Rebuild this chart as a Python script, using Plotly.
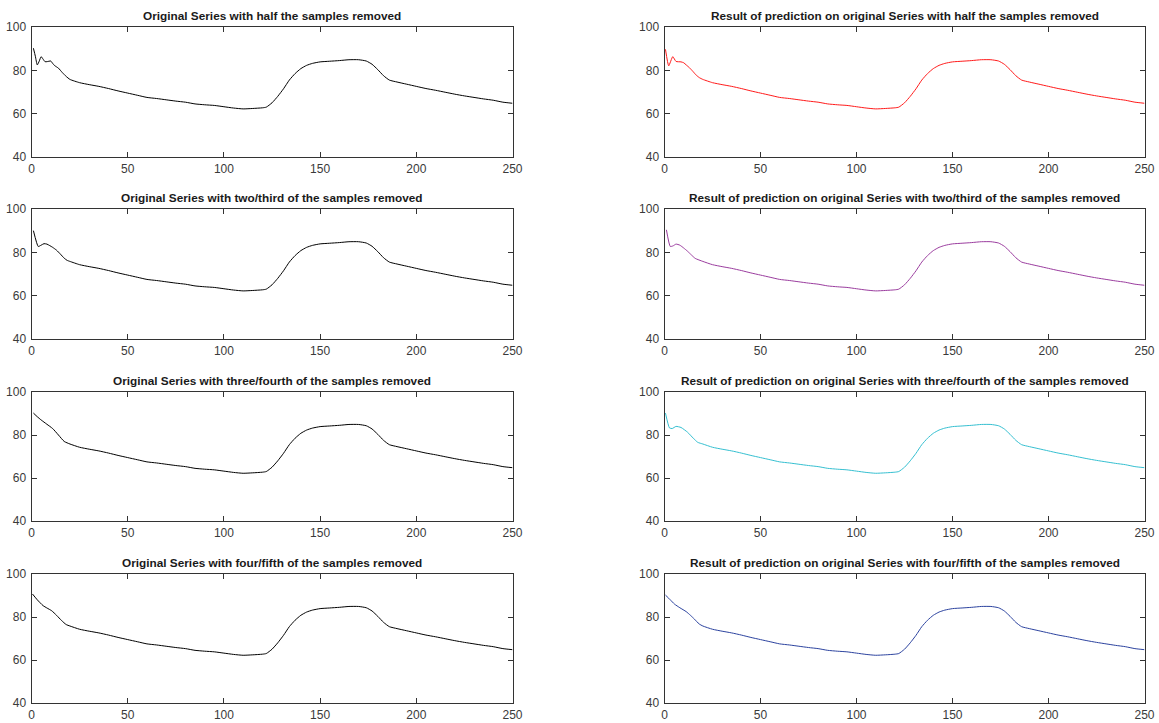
import plotly.graph_objects as go

# ---- data ----
tail_x = [20, 25, 30, 35, 40, 45, 50, 55, 60, 65, 70, 75, 80, 85, 90, 95, 100, 105, 110, 115,
          120, 122, 125, 128, 131, 134, 137, 140, 143, 146, 150, 155, 160, 165, 170, 174, 177,
          180, 183, 186, 190, 195, 200, 205, 210, 215, 220, 225, 230, 235, 240, 245, 250]
tail_y = [75.8, 74.3, 73.4, 72.6, 71.6, 70.5, 69.5, 68.5, 67.5, 67.0, 66.4, 65.8, 65.3, 64.5,
          64.1, 63.8, 63.2, 62.6, 62.2, 62.4, 62.7, 63.0, 65.0, 68.0, 71.5, 75.5, 78.5, 80.8,
          82.3, 83.2, 83.9, 84.2, 84.5, 84.9, 84.9, 84.3, 82.8, 80.3, 77.5, 75.5, 74.6, 73.6,
          72.6, 71.6, 70.8, 69.9, 69.0, 68.2, 67.5, 66.8, 66.2, 65.3, 64.8]

head_half_x = [1, 2, 3, 4, 5, 6, 7, 8, 10, 11, 12, 14, 16, 18]
head_half_y = [90.2, 86.5, 82.5, 84.2, 86.3, 85.2, 84.0, 84.0, 84.3, 83.2, 82.2, 81.0, 79.0, 77.2]
head_half_pred_x = [0.5, 2.2, 4.3, 6, 8.6, 10, 11.3, 13, 14.8, 16.5, 18.2]
head_half_pred_y = [89.7, 82.1, 86.3, 84.1, 83.9, 83.5, 82.5, 81.2, 79.5, 77.8, 76.6]

head_two_x = [1, 3.5, 5, 6.5, 8, 9.5, 11, 13, 15, 17, 18.5]
head_two_y = [90.0, 82.7, 83.3, 84.0, 83.8, 83.1, 82.3, 81.0, 79.2, 77.3, 76.3]
head_two_pred_x = [1, 3, 4.5, 6, 8, 10, 12, 14, 16]
head_two_pred_y = [90.4, 82.7, 83.0, 83.8, 83.3, 82.0, 80.5, 78.8, 77.2]

head_three_x = [1, 3, 5, 8, 11, 14, 17]
head_three_y = [90.2, 88.5, 87.0, 85.0, 83.0, 80.0, 77.0]
head_three_pred_x = [0.5, 2.6, 4, 6, 8.6, 12, 15, 17.3]
head_three_pred_y = [90.2, 83.3, 83.0, 84.0, 83.5, 81.3, 78.5, 76.6]

head_four_x = [0.5, 3, 6, 8, 10.5, 13, 15.7, 18]
head_four_y = [90.7, 88.0, 85.3, 84.2, 82.9, 80.8, 78.3, 76.5]
head_four_pred_x = [0.5, 3, 5.2, 8, 11.3, 13.5, 15.6, 18]
head_four_pred_y = [90.2, 88.0, 86.0, 84.3, 82.5, 80.8, 79.0, 76.8]

titles = [
    "Original Series with half the samples removed",
    "Result of prediction on original Series with half the samples removed",
    "Original Series with two/third of the samples removed",
    "Result of prediction on original Series with two/third of the samples removed",
    "Original Series with three/fourth of the samples removed",
    "Result of prediction on original Series with three/fourth of the samples removed",
    "Original Series with four/fifth of the samples removed",
    "Result of prediction on original Series with four/fifth of the samples removed",
]
heads = [
    (head_half_x, head_half_y), (head_half_pred_x, head_half_pred_y),
    (head_two_x, head_two_y), (head_two_pred_x, head_two_pred_y),
    (head_three_x, head_three_y), (head_three_pred_x, head_three_pred_y),
    (head_four_x, head_four_y), (head_four_pred_x, head_four_pred_y),
]
colors = ["#000000", "#ff1a1a", "#000000", "#9a3c9e", "#000000", "#35bfd0", "#000000", "#2b429e"]

x_ticks = [0, 50, 100, 150, 200, 250]
y_ticks = [40, 60, 80, 100]

# ---- layout geometry (pixels in the window) ----
W, H = 1159, 723
col_px = [(31.5, 512.5), (664.5, 1144.5)]
row_px = [(27, 157), (209, 339), (392, 521), (574, 703)]

fig = go.Figure()
axis_col = "#333333"
font_fam = "Liberation Sans, Arial, Helvetica, sans-serif"

for i in range(8):
    r, c = divmod(i, 2)
    n = i + 1
    hx, hy = heads[i]
    xs = list(hx) + tail_x
    ys = list(hy) + tail_y
    fig.add_trace(go.Scatter(x=xs, y=ys, mode="lines",
                             line=dict(color=colors[i], width=1, shape="spline", smoothing=0.5),
                             xaxis=f"x{n}", yaxis=f"y{n}", showlegend=False,
                             hoverinfo="skip"))
    x0, x1 = col_px[c]
    y0, y1 = row_px[r]
    common = dict(showgrid=False, zeroline=False, showline=True, linecolor=axis_col,
                  linewidth=1, mirror="allticks", ticks="inside", ticklen=5,
                  tickcolor=axis_col, automargin=False,
                  tickfont=dict(size=12, color="#3a3a3a", family=font_fam))
    fig.layout[f"xaxis{n}"] = dict(domain=[x0 / W, x1 / W], range=[0, 250],
                                   tickvals=x_ticks, anchor=f"y{n}", ticklabelstandoff=1,
                                   **common)
    fig.layout[f"yaxis{n}"] = dict(domain=[1 - y1 / H, 1 - y0 / H], range=[40, 100],
                                   tickvals=y_ticks, anchor=f"x{n}", ticklabelstandoff=2,
                                   **common)
    fig.add_annotation(text=f"<b>{titles[i]}</b>", x=(x0 + x1) / 2 / W, y=1 - y0 / H,
                       xref="paper", yref="paper", xanchor="center", yanchor="bottom",
                       yshift=2, showarrow=False,
                       font=dict(size=11.8, color="#1a1a1a", family=font_fam))

fig.update_layout(width=W, height=H, margin=dict(l=0, r=0, t=0, b=0),
                  paper_bgcolor="white", plot_bgcolor="white")
fig.write_html("out.html", config={"displayModeBar": False, "staticPlot": True},
               post_script="document.body.style.margin='0';document.body.style.overflow='hidden';")
